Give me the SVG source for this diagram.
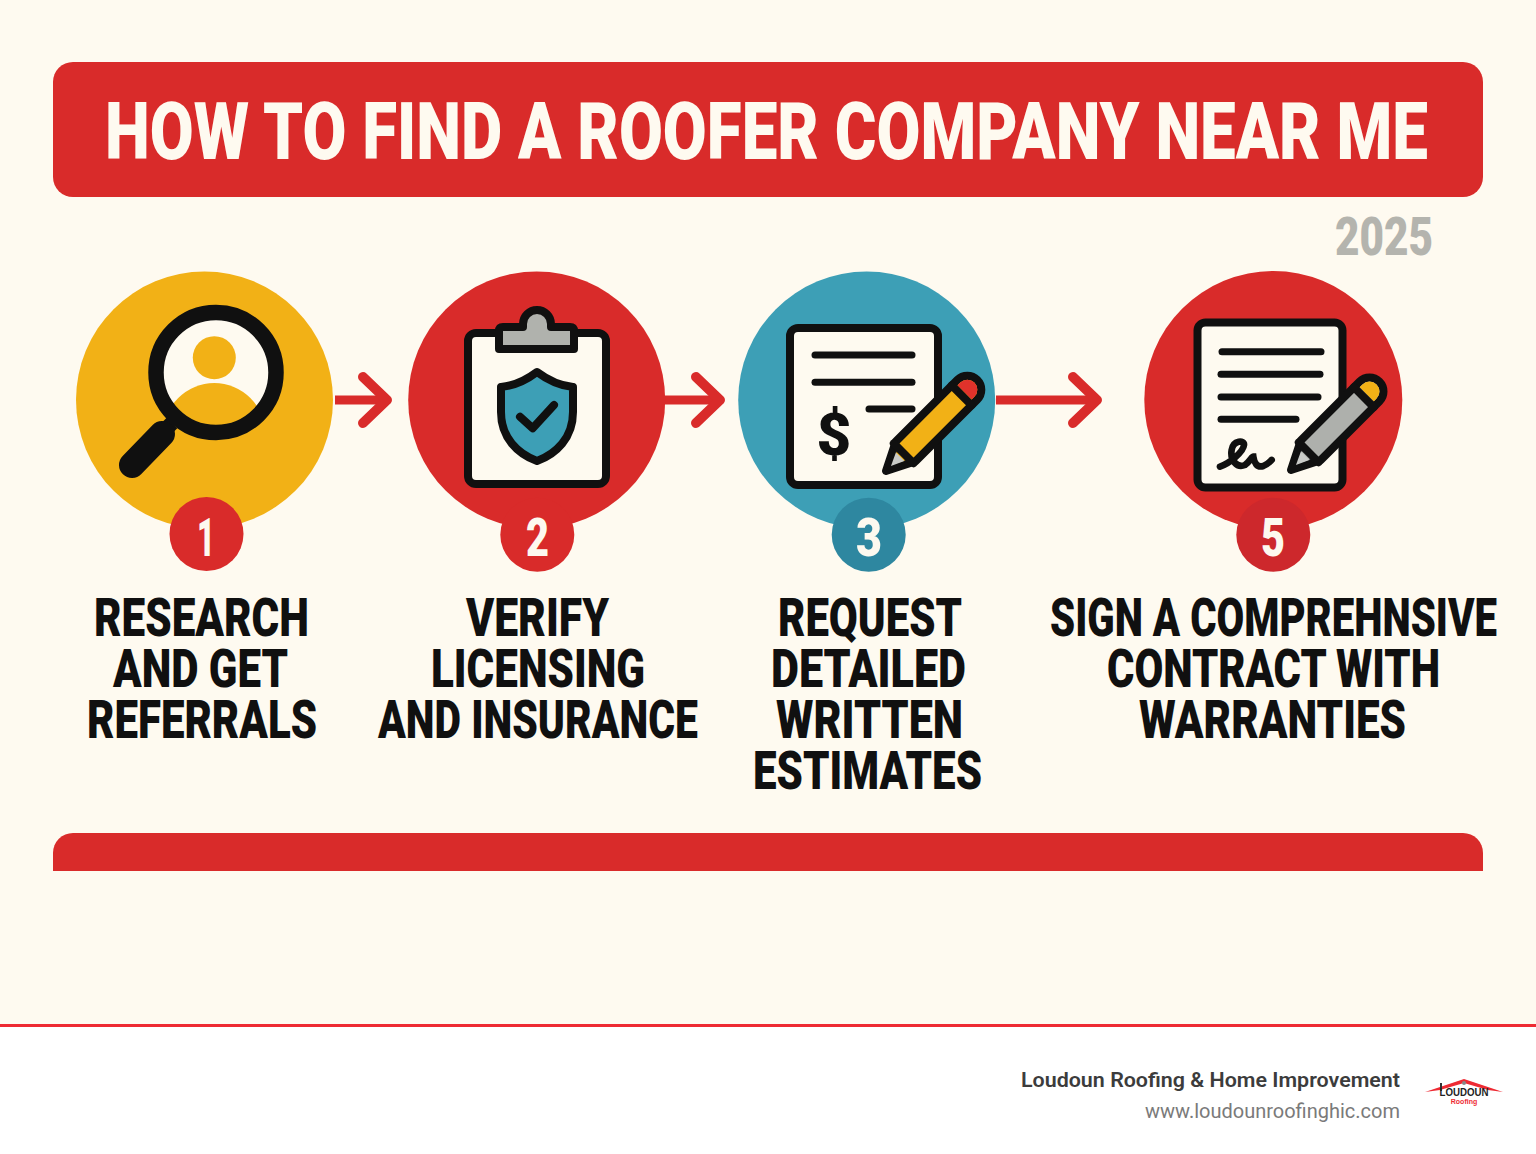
<svg xmlns="http://www.w3.org/2000/svg" width="1536" height="1154" viewBox="0 0 1536 1154">
<style>
.head{font-family:Roboto,"Liberation Sans",sans-serif;font-weight:900;fill:#101010;font-size:53px}
.num{font-family:Roboto,"Liberation Sans",sans-serif;font-weight:900;fill:#fdf9ef;font-size:53px}
.ink{stroke:#101010;stroke-width:8;stroke-linejoin:round;stroke-linecap:round}
.rule{stroke:#101010;stroke-width:7;stroke-linecap:round;fill:none}
.paper{fill:#fefaf0}
.conn{stroke:#d92b2a;stroke-width:9;fill:none;marker-end:url(#head)}
</style>
<defs>
<marker id="head" markerUnits="userSpaceOnUse" markerWidth="60" markerHeight="60" viewBox="-30 -30 60 60" refX="0" refY="0" orient="auto">
<path d="M-24,-23 L0,0 L-24,23" fill="none" stroke="#d92b2a" stroke-width="10" stroke-linecap="round" stroke-linejoin="round"/>
</marker>
<clipPath id="lens"><circle cx="216" cy="372.5" r="54"/></clipPath>
</defs>
<rect width="1536" height="1154" fill="#fefaf0"/>
<g id="title">
<rect x="53" y="62" width="1430" height="135" rx="20" fill="#d92b2a"/>
<text x="105" y="159" font-family="Roboto,'Liberation Sans',sans-serif" font-weight="900" font-size="80" fill="#fefaf0" textLength="1323" lengthAdjust="spacingAndGlyphs">HOW TO FIND A ROOFER COMPANY NEAR ME</text>
</g>
<text id="year" x="1335" y="255" font-family="Roboto,'Liberation Sans',sans-serif" font-weight="900" font-size="54" fill="#b4b4ae" textLength="98" lengthAdjust="spacingAndGlyphs">2025</text>
<g id="connectors">
<line class="conn" x1="335" y1="400" x2="387" y2="400"/>
<line class="conn" x1="664" y1="400" x2="720" y2="400"/>
<line class="conn" x1="996" y1="400" x2="1097" y2="400"/>
</g>
<g id="step1">
<circle cx="204.5" cy="400" r="128.5" fill="#f2b116"/>
<circle cx="216" cy="372.5" r="54" class="paper"/>
<g clip-path="url(#lens)" fill="#f2b116">
<circle cx="214.3" cy="357.7" r="21.5"/>
<circle cx="214.3" cy="434" r="51"/>
</g>
<circle cx="216" cy="372.5" r="60" fill="none" stroke="#101010" stroke-width="15.5"/>
<line x1="172" y1="423" x2="162" y2="433" stroke="#101010" stroke-width="15"/>
<line x1="162" y1="434" x2="132" y2="465" stroke="#101010" stroke-width="26" stroke-linecap="round"/>
<circle cx="206.5" cy="534" r="37" fill="#d92b2a"/>
<text class="num" x="197" y="556" textLength="18" lengthAdjust="spacingAndGlyphs">1</text>
<text class="head" x="94" y="636" textLength="215" lengthAdjust="spacingAndGlyphs">RESEARCH</text>
<text class="head" x="113" y="687" textLength="175" lengthAdjust="spacingAndGlyphs">AND GET</text>
<text class="head" x="87" y="738" textLength="230" lengthAdjust="spacingAndGlyphs">REFERRALS</text>
</g>
<g id="step2">
<circle cx="536.7" cy="400" r="128.5" fill="#d92b2a"/>
<rect x="468" y="333" width="138" height="151" rx="8" class="paper ink"/>
<path d="M499,331 Q499,327 503,327 H523 V324 A14,14 0 0 1 551,324 V327 H570 Q574,327 574,331 V349 H499 Z" fill="#b0b2ad" class="ink"/>
<path d="M537,372 C525,381 512,386 501,387 L501,412 C501,438 518,454 537,461 C556,454 573,438 573,412 L573,387 C562,386 549,381 537,372 Z" fill="#3d9fb6" class="ink"/>
<path d="M520,416.7 L532.7,428.3 L554,405" fill="none" class="ink"/>
<circle cx="537.3" cy="534.7" r="37" fill="#d92b2a"/>
<text class="num" x="526" y="556" textLength="23" lengthAdjust="spacingAndGlyphs">2</text>
<text class="head" x="466" y="636" textLength="143" lengthAdjust="spacingAndGlyphs">VERIFY</text>
<text class="head" x="431" y="687" textLength="214" lengthAdjust="spacingAndGlyphs">LICENSING</text>
<text class="head" x="378" y="738" textLength="320" lengthAdjust="spacingAndGlyphs">AND INSURANCE</text>
</g>
<g id="step3">
<circle cx="866.7" cy="400" r="128.5" fill="#3d9fb6"/>
<rect x="790" y="328" width="148" height="157" rx="8" class="paper ink"/>
<line class="rule" x1="815" y1="355" x2="912" y2="355"/>
<line class="rule" x1="815" y1="382.3" x2="912" y2="382.3"/>
<line class="rule" x1="869" y1="409" x2="912" y2="409"/>
<text x="834" y="455" text-anchor="middle" font-family="Roboto,'Liberation Sans',sans-serif" font-weight="900" font-size="60" fill="#101010">$</text>
<g transform="translate(886,471) rotate(-45)">
<path d="M0,0 L28,-14 H115 A14,14 0 0 1 115,14 H28 Z" fill="#f2b116" class="ink"/>
<path d="M111,-10 H115 A10,10 0 0 1 115,10 H111 Z" fill="#e0322b"/>
<line x1="107" y1="-14" x2="107" y2="14" class="ink"/>
<line x1="25" y1="-14" x2="25" y2="14" class="ink"/>
<path d="M7,0 L20,-6 V6 Z" fill="#c9cbc8"/>
</g>
<circle cx="868.7" cy="534.7" r="37" fill="#2e87a0"/>
<text class="num" x="856" y="556" textLength="26" lengthAdjust="spacingAndGlyphs">3</text>
<text class="head" x="778" y="636" textLength="184" lengthAdjust="spacingAndGlyphs">REQUEST</text>
<text class="head" x="771" y="687" textLength="195" lengthAdjust="spacingAndGlyphs">DETAILED</text>
<text class="head" x="776" y="738" textLength="187" lengthAdjust="spacingAndGlyphs">WRITTEN</text>
<text class="head" x="753" y="789" textLength="229" lengthAdjust="spacingAndGlyphs">ESTIMATES</text>
</g>
<g id="step5">
<circle cx="1273.3" cy="400" r="129" fill="#d92b2a"/>
<rect x="1197.5" y="322.5" width="145" height="165" rx="8" class="paper ink"/>
<line class="rule" x1="1222" y1="351.7" x2="1321" y2="351.7"/>
<line class="rule" x1="1221" y1="374.3" x2="1320" y2="374.3"/>
<line class="rule" x1="1221" y1="397" x2="1318" y2="397"/>
<line class="rule" x1="1221" y1="419.3" x2="1296" y2="419.3"/>
<path transform="translate(1130,260) scale(.3333)" d="M270,620 C300,610 340,575 342,555 C344,540 310,540 305,570 C300,600 320,625 345,615 C360,605 365,590 370,590 C372,605 380,625 400,618 C415,612 420,605 425,600" fill="none" stroke="#101010" stroke-width="20" stroke-linecap="round"/>
<g transform="translate(1291,470) rotate(-45)">
<path d="M0,0 L28,-14 H111 A14,14 0 0 1 111,14 H28 Z" fill="#aeb0ac" class="ink"/>
<path d="M107,-10 H111 A10,10 0 0 1 111,10 H107 Z" fill="#f2b116"/>
<line x1="103" y1="-14" x2="103" y2="14" class="ink"/>
<line x1="25" y1="-14" x2="25" y2="14" class="ink"/>
<path d="M7,0 L20,-6 V6 Z" fill="#c9cbc8"/>
</g>
<circle cx="1273.3" cy="534.7" r="37" fill="#cd282c"/>
<text class="num" x="1261" y="556" textLength="24" lengthAdjust="spacingAndGlyphs">5</text>
<text class="head" x="1050" y="636" textLength="447" lengthAdjust="spacingAndGlyphs">SIGN A COMPREHNSIVE</text>
<text class="head" x="1107" y="687" textLength="333" lengthAdjust="spacingAndGlyphs">CONTRACT WITH</text>
<text class="head" x="1139" y="738" textLength="267" lengthAdjust="spacingAndGlyphs">WARRANTIES</text>
</g>
<path id="band" d="M53,871 V853 A20,20 0 0 1 73,833 H1463 A20,20 0 0 1 1483,853 V871 Z" fill="#d92b2a"/>
<g id="footer">
<rect x="0" y="1025" width="1536" height="129" fill="#fff"/>
<rect x="0" y="1024" width="1536" height="3" fill="#ee2a33"/>
<text x="1400" y="1087" text-anchor="end" font-family="Roboto,'Liberation Sans',sans-serif" font-weight="600" font-size="21" fill="#3c3c3c" textLength="379" lengthAdjust="spacingAndGlyphs">Loudoun Roofing &amp; Home Improvement</text>
<text x="1400" y="1118" text-anchor="end" font-family="Roboto,'Liberation Sans',sans-serif" font-size="20" fill="#7a7a7a" textLength="255" lengthAdjust="spacingAndGlyphs">www.loudounroofinghic.com</text>
</g>
<g id="logo">
<path d="M1425,1092 L1464,1079 L1503,1092 L1488,1090 L1464,1083 L1440,1090 Z" fill="#ee2a33"/>
<rect x="1440" y="1083" width="2" height="8" fill="#333"/>
<circle cx="1464" cy="1083" r="2" fill="#888"/>
<text x="1464" y="1096" text-anchor="middle" font-family="'Liberation Sans',sans-serif" font-weight="700" font-size="10" fill="#222" textLength="49" lengthAdjust="spacingAndGlyphs">LOUDOUN</text>
<text x="1464" y="1104" text-anchor="middle" font-family="'Liberation Sans',sans-serif" font-weight="700" font-size="7" fill="#ee2a33">Roofing</text>
</g>
</svg>
